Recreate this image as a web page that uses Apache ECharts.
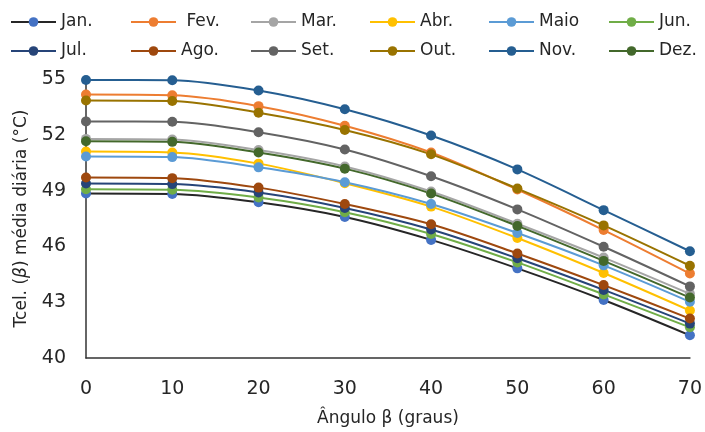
<!DOCTYPE html>
<html>
<head>
<meta charset="utf-8">
<script src="https://cdn.jsdelivr.net/npm/echarts@6/dist/echarts.min.js"></script>
<style>
html, body { margin: 0; padding: 0; background: #fff; }
#chart { width: 705px; height: 432px; }
</style>
</head>
<body>
<div id="chart"></div>
<script>
// angulo beta (graus)
var angles = [0, 10, 20, 30, 40, 50, 60, 70];
var yTicks = [40, 43, 46, 49, 52, 55];

var months = ["Jan.", " Fev.", "Mar.", "Abr.", "Maio", "Jun.", "Jul.", "Ago.", "Set.", "Out.", "Nov.", "Dez."];

var jan = [48.84, 48.82, 48.37, 47.58, 46.35, 44.82, 43.12, 41.22];
var fev = [54.16, 54.12, 53.54, 52.49, 51.05, 49.06, 46.88, 44.54];
var mar = [51.78, 51.75, 51.18, 50.30, 48.95, 47.22, 45.40, 43.45];
var abr = [51.10, 51.05, 50.45, 49.40, 48.14, 46.45, 44.57, 42.55];
var maio = [50.83, 50.80, 50.25, 49.45, 48.28, 46.72, 44.98, 43.02];
var jun = [49.07, 49.05, 48.63, 47.84, 46.67, 45.14, 43.42, 41.65];
var jul = [49.38, 49.35, 48.90, 48.07, 46.91, 45.36, 43.66, 41.85];
var ago = [49.70, 49.67, 49.16, 48.28, 47.19, 45.62, 43.92, 42.12];
var set = [52.72, 52.70, 52.14, 51.21, 49.77, 47.99, 45.98, 43.85];
var out = [53.84, 53.82, 53.19, 52.26, 50.95, 49.11, 47.13, 44.96];
var nov = [54.95, 54.93, 54.38, 53.37, 51.96, 50.14, 47.95, 45.74];
var dez = [51.65, 51.62, 51.05, 50.18, 48.84, 47.10, 45.22, 43.25];

var values = [jan, fev, mar, abr, maio, jun, jul, ago, set, out, nov, dez];
var markerColors = ["#4472C4", "#ED7D31", "#A5A5A5", "#FFC000", "#5B9BD5", "#70AD47",
                    "#264478", "#9E480E", "#636363", "#997300", "#255E91", "#43682B"];
var lineColors = ["#262626", "#ED7D31", "#A5A5A5", "#FFC000", "#5B9BD5", "#70AD47",
                  "#264478", "#9E480E", "#636363", "#997300", "#255E91", "#43682B"];

var font = "DejaVu Sans";
var textColor = "#262626";

var series = values.map(function (v, i) {
  return {
    name: months[i],
    type: "line",
    smooth: 0.3,
    clip: false,
    symbol: "circle",
    symbolSize: 10,
    data: angles.map(function (a, j) { return [a, v[j]]; }),
    lineStyle: { color: lineColors[i], width: 2 },
    itemStyle: { color: markerColors[i] }
  };
});

// one legend per item so they sit on an even grid, like the original
var colLeft = [10, 130, 250, 369, 488, 608];
var rowTop = [12, 41];
var legends = months.map(function (m, i) {
  return {
    data: [m],
    left: colLeft[i % 6],
    top: rowTop[Math.floor(i / 6)],
    itemWidth: 45,
    itemHeight: 12,
    itemGap: 0,
    padding: 0,
    textStyle: { fontFamily: font, fontSize: 17, color: textColor, lineHeight: 20 }
  };
});

var chart = echarts.init(document.getElementById("chart"));
chart.setOption({
  animation: false,
  backgroundColor: "#fff",
  legend: legends,
  grid: { left: 86, right: 15, top: 79, bottom: 68 },
  xAxis: {
    type: "value",
    min: 0,
    max: 70,
    interval: 10,
    name: "Ângulo β (graus)",
    nameLocation: "middle",
    nameGap: 52,
    nameTextStyle: { fontFamily: font, fontSize: 17, color: textColor },
    axisLine: { lineStyle: { color: "#333", width: 1.5 } },
    axisTick: { show: false },
    splitLine: { show: false },
    axisLabel: { fontFamily: font, fontSize: 19, color: textColor, margin: 22 }
  },
  yAxis: {
    type: "value",
    min: 40,
    max: 55,
    name: "Tcel. ({it|β}) média diária (°C)",
    nameLocation: "middle",
    nameGap: 56,
    nameRotate: 90,
    nameTextStyle: {
      fontFamily: font, fontSize: 17, color: textColor,
      rich: { it: { fontFamily: font, fontSize: 17, color: textColor, fontStyle: "italic" } }
    },
    axisLine: { show: true, lineStyle: { color: "#333", width: 1.5 } },
    axisTick: { show: false },
    splitLine: { show: false },
    axisLabel: { fontFamily: font, fontSize: 19, color: textColor, margin: 20, customValues: yTicks }
  },
  series: series
});
</script>
</body>
</html>
